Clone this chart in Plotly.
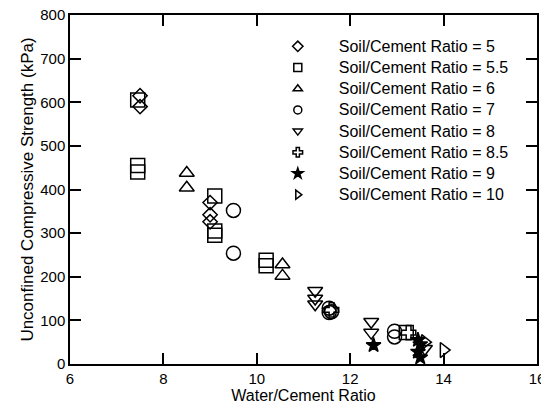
import plotly.graph_objects as go

# Soil/Cement ratio series: water/cement ratio (x) vs UCS in kPa (y)
ratios = ['5', '5.5', '6', '7', '8', '8.5', '9', '10']
symbols = ['diamond-open', 'square-open', 'triangle-up-open', 'circle-open',
           'triangle-down-open', 'cross-open', 'star', 'triangle-right-open']
sizes = [11, 14, 13, 14, 13, 12, 11, 13]

x_5 = [7.5, 7.5, 9.0, 9.0, 9.0]
y_5 = [615, 590, 370, 342, 326]
x_55 = [7.45, 7.45, 7.45, 9.1, 9.1, 9.1, 10.2, 10.2, 13.2]
y_55 = [605, 455, 440, 385, 305, 295, 238, 225, 72]
x_6 = [8.5, 8.5, 10.55, 10.55]
y_6 = [438, 404, 228, 202]
x_7 = [9.5, 9.5, 11.55, 11.6, 11.55, 12.95, 12.95]
y_7 = [352, 254, 128, 120, 118, 75, 62]
x_8 = [11.25, 11.25, 11.25, 12.45, 12.45, 13.6]
y_8 = [168, 150, 137, 97, 72, 35]
x_85 = [13.25, 11.6]
y_85 = [72, 124]
x_9 = [12.5, 13.45, 13.5, 13.5, 13.45]
y_9 = [43, 55, 45, 15, 28]
x_10 = [14.0, 13.6]
y_10 = [32, 50]

xs = [x_5, x_55, x_6, x_7, x_8, x_85, x_9, x_10]
ys = [y_5, y_55, y_6, y_7, y_8, y_85, y_9, y_10]

fig = go.Figure()
for r, sym, sz, x, y in zip(ratios, symbols, sizes, xs, ys):
    fig.add_trace(go.Scatter(
        x=x, y=y, mode='markers', showlegend=False,
        marker=dict(symbol=sym, size=sz, color='black',
                    line=dict(color='black', width=1.5))
    ))
    # smaller legend-only marker; label drawn a bit larger than the row spacing font
    fig.add_trace(go.Scatter(
        x=[None], y=[None], mode='markers',
        name=f'<span style="font-size:16px">Soil/Cement Ratio = {r}</span>',
        marker=dict(symbol=sym, size=8, color='black',
                    line=dict(color='black', width=1.5))
    ))

axis_style = dict(
    showline=True, linecolor='black', linewidth=1.5, mirror='allticks',
    ticks='inside', ticklen=11, tickwidth=1.5, tickcolor='black',
    showgrid=False, zeroline=False, automargin=False,
    tickfont=dict(size=15, color='black'),
)

fig.update_layout(
    width=541, height=405,
    paper_bgcolor='white', plot_bgcolor='white',
    font=dict(family='Liberation Sans, Arial, sans-serif', color='black'),
    margin=dict(l=70, r=4, t=15, b=41),
    xaxis=dict(range=[6, 16], dtick=2, ticklabeloverflow='allow',
               title=dict(text='Water/Cement Ratio', font=dict(size=16), standoff=0),
               **axis_style),
    yaxis=dict(range=[0, 800], dtick=100,
               title=dict(text='Unconfined Compressive Strength (kPa)', font=dict(size=17), standoff=2),
               **axis_style),
    legend=dict(
        x=0.40, y=0.955, xanchor='left', yanchor='top',
        bgcolor='rgba(0,0,0,0)', borderwidth=0,
        font=dict(size=14, color='black'),
        itemwidth=72, tracegroupgap=0,
    ),
)

fig.write_html("out.html", config={'displayModeBar': False},
               post_script="document.body.style.margin='0';document.body.style.overflow='hidden';")
